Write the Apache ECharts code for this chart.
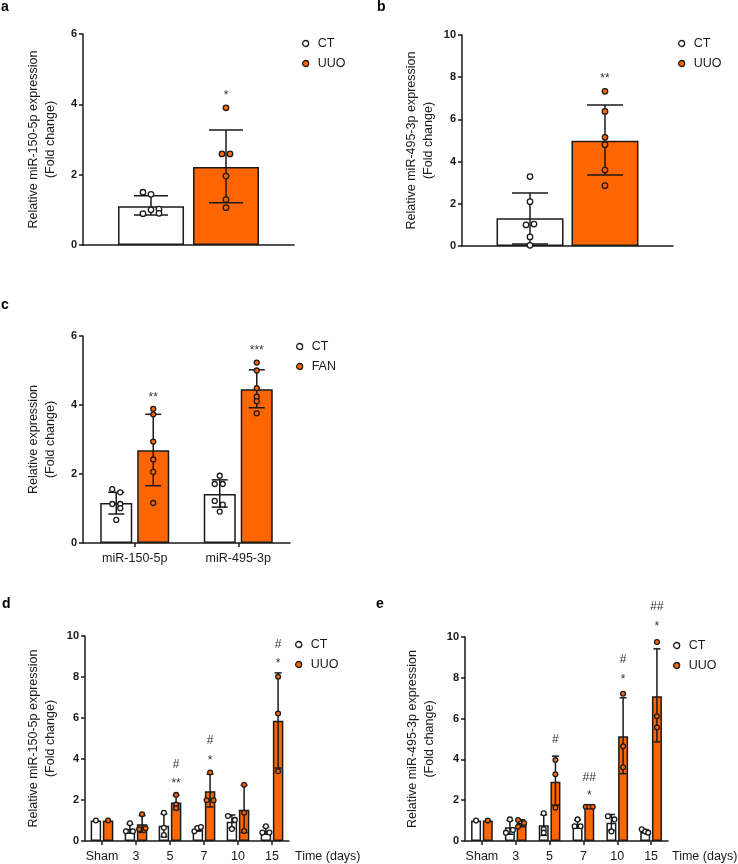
<!DOCTYPE html>
<html><head><meta charset="utf-8">
<script src="https://cdn.jsdelivr.net/npm/echarts@6/dist/echarts.min.js"></script>
<style>html,body{margin:0;padding:0;background:#fff}#c{width:738px;height:864px}</style>
</head><body><div id="c"></div>
<script>
// ================= DATA =================
// Panel a
const aCategories = [''];
const aCTMean = [1.10];
const aUUOMean = [2.22];
const aCTErr = [[0.85, 1.40]];
const aUUOErr = [[1.20, 3.27]];
const aCTPoints = [[1.50, 1.44, 1.00, 1.02, 0.89, 0.90]];
const aUUOPoints = [[3.90, 2.59, 2.59, 1.96, 1.29, 1.06]];
const aSigCat = [0];
const aSigText = ['*'];
const aSigY = [4.33];

// Panel b
const bCategories = [''];
const bCTMean = [1.31];
const bUUOMean = [4.99];
const bCTErr = [[0.10, 2.51]];
const bUUOErr = [[3.36, 6.68]];
const bCTPoints = [[3.29, 2.10, 1.00, 1.04, 0.43, 0.03]];
const bUUOPoints = [[7.33, 6.38, 5.15, 4.80, 3.60, 2.86]];
const bSigCat = [0];
const bSigText = ['**'];
const bSigY = [8.09];

// Panel c
const cCategories = ['miR-150-5p', 'miR-495-3p'];
const cCTMean = [1.16, 1.42];
const cFANMean = [2.69, 4.46];
const cCTErr = [[0.84, 1.47], [1.04, 1.83]];
const cFANErr = [[1.66, 3.73], [3.92, 5.02]];
const cCTPoints = [[1.56, 1.47, 1.13, 1.13, 1.01, 0.67], [1.95, 1.71, 1.71, 1.22, 1.11, 0.91]];
const cFANPoints = [[3.89, 3.73, 2.94, 2.42, 2.06, 1.16], [5.23, 5.00, 4.49, 4.24, 4.11, 3.76]];
const cSigCat = [0, 1];
const cSigText = ['**', '***'];
const cSigY = [4.31, 5.66];

// Panel d (miR-150-5p, time course)
const dCategories = ['Sham', '3', '5', '7', '10', '15'];
const dCTMean = [1.00, 0.60, 0.74, 0.56, 0.94, 0.49];
const dUUOMean = [1.00, 0.82, 1.88, 2.43, 1.53, 5.86];
const dCTErr = [null, [0.38, 0.83], [0.20, 1.33], [0.48, 0.70], [0.63, 1.27], [0.33, 0.69]];
const dUUOErr = [null, [0.42, 1.24], [1.54, 2.22], [1.66, 3.26], [0.41, 2.72], [3.56, 8.20]];
const dCTPoints = [[1.00], [0.86, 0.47, 0.47], [1.38, 0.65, 0.29], [0.47, 0.63, 0.68], [1.22, 1.03, 0.59], [0.72, 0.41, 0.41]];
const dUUOPoints = [[1.00], [1.30, 0.57, 0.62], [2.25, 1.78, 1.60], [3.34, 1.99, 1.99], [2.74, 1.38, 0.49], [8.01, 6.22, 3.40]];
const dSigCat = [2, 2, 3, 3, 5, 5];
const dSigText = ['**', '#', '*', '#', '*', '#'];
const dSigY = [2.93, 3.73, 4.06, 4.89, 8.78, 9.60];

// Panel e (miR-495-3p, time course)
const eCategories = ['Sham', '3', '5', '7', '10', '15'];
const eCTMean = [1.00, 0.67, 0.77, 0.79, 0.89, 0.45];
const eUUOMean = [1.00, 0.88, 2.90, 1.68, 5.13, 7.09];
const eCTErr = [null, [0.33, 1.01], [0.27, 1.29], [0.63, 1.03], [0.52, 1.30], [0.40, 0.56]];
const eUUOErr = [null, [0.70, 1.04], [1.76, 4.16], [1.65, 1.71], [3.30, 7.02], [4.86, 9.42]];
const eCTPoints = [[1.00], [1.06, 0.41, 0.54], [1.36, 0.57, 0.41], [1.06, 0.72, 0.72], [1.21, 1.06, 0.47], [0.57, 0.46, 0.41]];
const eUUOPoints = [[1.00], [1.03, 0.88, 0.70], [3.97, 3.27, 1.63], [1.68, 1.68, 1.68], [7.22, 4.64, 3.61], [9.75, 6.11, 5.56]];
const eSigCat = [2, 3, 3, 4, 4, 5, 5];
const eSigText = ['#', '*', '##', '*', '#', '*', '##'];
const eSigY = [4.98, 2.37, 3.09, 8.07, 8.89, 10.65, 11.50];

// ================= STYLE / LAYOUT =================
const FONT = "'Liberation Sans', Arial, Helvetica, sans-serif";
const INK = '#1a1a1a';
const ORANGE = '#FF6600';

// horizontal jitter (px) of dots inside each bar, per category
const aJitCT = [[-8, 0, 0, 8, -8, 8]];
const aJitUUO = [[0, -4, 4, 0, 0, 0]];
const bJitCT = [[0, 0, -4, 4, 0, 0]];
const bJitUUO = [[0, 0, 0, 0, 0, 0]];
const cJitCT = [[-4, 4, -4, 4, 4, 0], [0, -5, 3, -5, 3, 0]];
const cJitFAN = [[0, 0, 0, 0, 0, 0], [0, 0, 0, 0, 0, 0]];
const dJitCT = [[0], [0, -4, 3], [0, 0, 0], [-3.5, -0.5, 3], [-4, 3, 0], [0, -3.5, 3.5]];
const dJitUUO = [[0], [0, -3, 3.5], [0, 0, 0], [0, -3.5, 3.5], [0, 0, 0], [0, 0, 0]];
const eJitCT = [[0], [0, -4, 3], [0, 0, 0], [0, -3, 3], [-3.5, 3, 0], [-3.5, 0, 3]];
const eJitUUO = [[0], [-3.5, 2.5, -3.5], [0, 0, 0], [-3.5, 0, 3.5], [0, 0, 0], [0, 0, 0]];

const panels = [
  { letter: 'a', letterPos: [1, 0],
    grid: { left: 83, top: 34, width: 211, height: 211 }, yMax: 6,
    yName: 'Relative miR-150-5p expression\n(Fold change)', nameGap: 24,
    cats: aCategories, xLabels: false,
    groups: [
      { name: 'CT', fill: '#ffffff', mean: aCTMean, err: aCTErr, pts: aCTPoints, jit: aJitCT },
      { name: 'UUO', fill: ORANGE, mean: aUUOMean, err: aUUOErr, pts: aUUOPoints, jit: aJitUUO }],
    sig: { cat: aSigCat, text: aSigText, y: aSigY },
    barWidth: 66, gapPx: 9, capHalf: 17, sym: 5.5, legend: { left: 302, top: 37 } },
  { letter: 'b', letterPos: [377, 0],
    grid: { left: 462, top: 35, width: 211, height: 211 }, yMax: 10,
    yName: 'Relative miR-495-3p expression\n(Fold change)', nameGap: 25,
    cats: bCategories, xLabels: false,
    groups: [
      { name: 'CT', fill: '#ffffff', mean: bCTMean, err: bCTErr, pts: bCTPoints, jit: bJitCT },
      { name: 'UUO', fill: ORANGE, mean: bUUOMean, err: bUUOErr, pts: bUUOPoints, jit: bJitUUO }],
    sig: { cat: bSigCat, text: bSigText, y: bSigY },
    barWidth: 67, gapPx: 8, capHalf: 18, sym: 5.5, legend: { left: 678, top: 37 } },
  { letter: 'c', letterPos: [1, 298],
    grid: { left: 83, top: 336, width: 207, height: 207 }, yMax: 6,
    yName: 'Relative expression\n(Fold change)', nameGap: 24,
    cats: cCategories, xLabels: true,
    groups: [
      { name: 'CT', fill: '#ffffff', mean: cCTMean, err: cCTErr, pts: cCTPoints, jit: cJitCT },
      { name: 'FAN', fill: ORANGE, mean: cFANMean, err: cFANErr, pts: cFANPoints, jit: cJitFAN }],
    sig: { cat: cSigCat, text: cSigText, y: cSigY },
    barWidth: 32, gapPx: 5, capHalf: 8, sym: 5, legend: { left: 296, top: 340 } },
  { letter: 'd', letterPos: [2, 597],
    grid: { left: 85, top: 636, width: 204, height: 205 }, yMax: 10,
    yName: 'Relative miR-150-5p expression\n(Fold change)', nameGap: 26,
    cats: dCategories, xLabels: true, timeLabel: [295, 857],
    groups: [
      { name: 'CT', fill: '#ffffff', mean: dCTMean, err: dCTErr, pts: dCTPoints, jit: dJitCT },
      { name: 'UUO', fill: ORANGE, mean: dUUOMean, err: dUUOErr, pts: dUUOPoints, jit: dJitUUO }],
    sig: { cat: dSigCat, text: dSigText, y: dSigY },
    barWidth: 10.5, gapPx: 1.7, capHalf: 3.5, sym: 4.8, legend: { left: 295, top: 638 } },
  { letter: 'e', letterPos: [376, 597],
    grid: { left: 465, top: 637, width: 203, height: 204 }, yMax: 10,
    yName: 'Relative miR-495-3p expression\n(Fold change)', nameGap: 27,
    cats: eCategories, xLabels: true, timeLabel: [672, 857],
    groups: [
      { name: 'CT', fill: '#ffffff', mean: eCTMean, err: eCTErr, pts: eCTPoints, jit: eJitCT },
      { name: 'UUO', fill: ORANGE, mean: eUUOMean, err: eUUOErr, pts: eUUOPoints, jit: eJitUUO }],
    sig: { cat: eSigCat, text: eSigText, y: eSigY },
    barWidth: 10, gapPx: 1.7, capHalf: 3.5, sym: 4.8, legend: { left: 673, top: 639 } }
];

// ================= BUILD =================
const option = {
  animation: false,
  backgroundColor: '#ffffff',
  textStyle: { fontFamily: FONT },
  grid: [], xAxis: [], yAxis: [], series: [], legend: [], graphic: []
};

panels.forEach((p, i) => {
  option.grid.push(Object.assign({ containLabel: false }, p.grid));
  option.xAxis.push({
    type: 'category', gridIndex: i, data: p.cats,
    axisLine: { show: true, lineStyle: { color: INK, width: 1.5 } },
    axisTick: { show: p.xLabels, alignWithLabel: true, interval: 0, length: 4, lineStyle: { color: INK, width: 1.5 } },
    axisLabel: { show: p.xLabels, interval: 0, hideOverlap: false, color: INK, fontSize: 12.5, fontFamily: FONT, margin: 9 },
    splitLine: { show: false }
  });
  option.yAxis.push({
    type: 'value', gridIndex: i, min: 0, max: p.yMax, interval: 2,
    name: p.yName, nameLocation: 'middle', nameGap: p.nameGap,
    nameTextStyle: { color: INK, fontSize: 12.5, lineHeight: 17, fontFamily: FONT, align: 'center' },
    axisLine: { show: true, lineStyle: { color: INK, width: 1.5 } },
    axisTick: { show: true, length: 4, lineStyle: { color: INK, width: 1.5 } },
    axisLabel: { color: INK, fontSize: 11, fontWeight: 'bold', fontFamily: FONT, margin: 6 },
    splitLine: { show: false }
  });

  const step = (p.barWidth + p.gapPx) / 2;
  const gapPct = (p.gapPx / p.barWidth * 100).toFixed(1) + '%';

  p.groups.forEach((g, gi) => {
    const off = gi === 0 ? -step : step;
    // bars
    option.series.push({
      type: 'bar', name: g.name, xAxisIndex: i, yAxisIndex: i,
      data: g.mean, barWidth: p.barWidth, barGap: gapPct,
      itemStyle: { color: g.fill, borderColor: INK, borderWidth: 1.5 },
      z: 2, silent: true
    });
    // error bars
    const errData = [];
    g.err.forEach((e, c) => { if (e) errData.push([c, e[0], e[1]]); });
    option.series.push({
      type: 'custom', name: g.name + ' SD', xAxisIndex: i, yAxisIndex: i,
      data: errData, encode: { x: 0, y: [1, 2] }, z: 3, silent: true,
      renderItem: (params, api) => {
        const hi = api.coord([api.value(0), api.value(2)]);
        const lo = api.coord([api.value(0), api.value(1)]);
        const x = hi[0] + off;
        const st = { stroke: INK, lineWidth: 1.5 };
        return { type: 'group', children: [
          { type: 'line', shape: { x1: x, y1: hi[1], x2: x, y2: lo[1] }, style: st },
          { type: 'line', shape: { x1: x - p.capHalf, y1: hi[1], x2: x + p.capHalf, y2: hi[1] }, style: st },
          { type: 'line', shape: { x1: x - p.capHalf, y1: lo[1], x2: x + p.capHalf, y2: lo[1] }, style: st }
        ] };
      }
    });
    // individual points
    const ptData = [];
    g.pts.forEach((arr, c) => arr.forEach((v, k) => {
      ptData.push({ value: [c, v], symbolOffset: [off + ((g.jit[c] || [])[k] || 0), 0] });
    }));
    option.series.push({
      type: 'scatter', name: g.name + ' pts', xAxisIndex: i, yAxisIndex: i,
      data: ptData, symbol: 'circle', symbolSize: p.sym,
      itemStyle: { color: g.fill, borderColor: INK, borderWidth: 1.3, opacity: 1 },
      z: 4, silent: true
    });
  });

  // significance marks above treated bars
  const sigData = p.sig.cat.map((c, k) => [c, p.sig.y[k]]);
  const sigOff = step;
  option.series.push({
    type: 'custom', name: 'sig' + i, xAxisIndex: i, yAxisIndex: i,
    data: sigData, encode: { x: 0, y: 1 }, z: 5, silent: true, clip: false,
    renderItem: (params, api) => {
      const pt = api.coord([api.value(0), api.value(1)]);
      const t = p.sig.text[params.dataIndex];
      const star = t.indexOf('*') >= 0;
      return { type: 'text', x: pt[0] + sigOff, y: pt[1] + (star ? 3 : 0),
        style: { text: t, fill: '#333', font: '12px ' + FONT, align: 'center', verticalAlign: 'middle' } };
    }
  });

  // legend
  option.legend.push({
    orient: 'vertical', left: p.legend.left, top: p.legend.top,
    itemWidth: 14, itemHeight: 6, itemGap: 7, padding: 0,
    icon: 'circle', selectedMode: false,
    textStyle: { color: INK, fontSize: 12.5, fontFamily: FONT },
    data: p.groups.map(g => ({ name: g.name, icon: 'circle',
      itemStyle: { color: g.fill, borderColor: INK, borderWidth: 1.3 } }))
  });

  // panel letter
  option.graphic.push({ type: 'text', left: p.letterPos[0], top: p.letterPos[1],
    style: { text: p.letter, font: 'bold 14px ' + FONT, fill: '#000' } });
  if (p.timeLabel) {
    option.graphic.push({ type: 'text', x: p.timeLabel[0], y: p.timeLabel[1],
      style: { text: 'Time (days)', font: '12.5px ' + FONT, fill: INK, verticalAlign: 'middle', align: 'left' } });
  }
});

const chart = echarts.init(document.getElementById('c'), null, { renderer: 'canvas', width: 738, height: 864 });
chart.setOption(option);
</script>
</body></html>
